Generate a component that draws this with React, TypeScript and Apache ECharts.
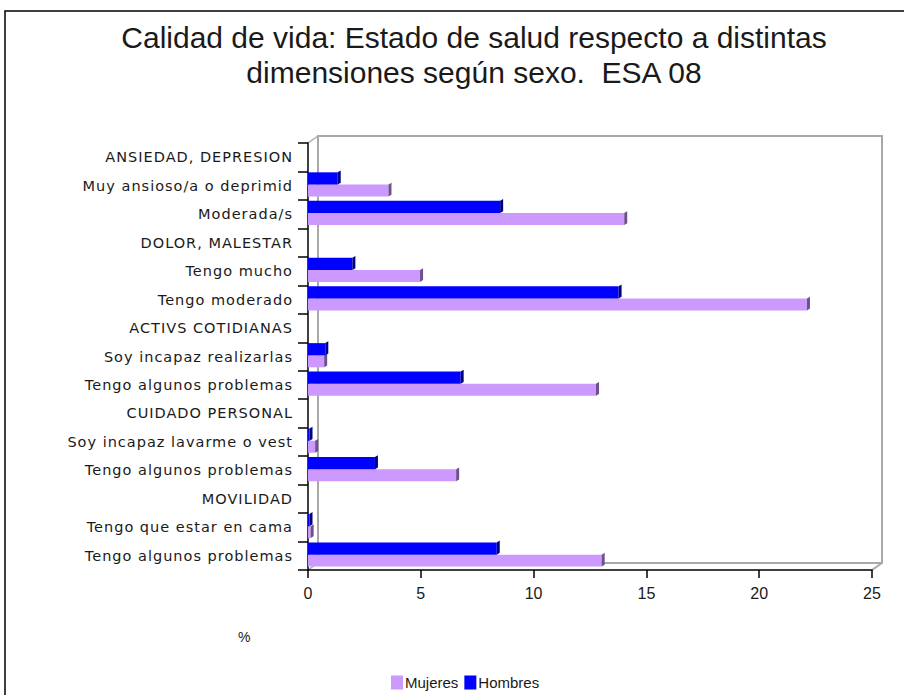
import React, { useEffect, useRef } from "react";
import * as echarts from "echarts";

const categories = [
  "ANSIEDAD, DEPRESION",
  "Muy ansioso/a o deprimid",
  "Moderada/s",
  "DOLOR, MALESTAR",
  "Tengo mucho",
  "Tengo moderado",
  "ACTIVS COTIDIANAS",
  "Soy incapaz realizarlas",
  "Tengo algunos problemas",
  "CUIDADO PERSONAL",
  "Soy incapaz lavarme o vest",
  "Tengo algunos problemas",
  "MOVILIDAD",
  "Tengo que estar en cama",
  "Tengo algunos problemas",
];

const hombres: (number | null)[] = [
  null, 1.45, 8.65, null, 2.1, 13.9, null, 0.9, 6.9, null, 0.2, 3.1, null, 0.2, 8.5,
];
const mujeres: (number | null)[] = [
  null, 3.7, 14.15, null, 5.1, 22.25, null, 0.85, 12.9, null, 0.45, 6.7, null, 0.25, 13.15,
];

const xTicks = { min: 0, max: 25, interval: 5 };

const FONT = "'Liberation Sans', Arial, sans-serif";
const LABEL_FONT = "'DejaVu Sans', 'Liberation Sans', sans-serif";

function makeRender(topFrac: number, botFrac: number, color: string, cap: string) {
  return (params: any, api: any) => {
    const v = api.value(0);
    const idx = api.value(1);
    if (v == null || isNaN(v)) return null;
    const start = api.coord([0, idx]);
    const end = api.coord([v, idx]);
    const band = api.size([0, 1])[1];
    const y0 = start[1] + band * topFrac;
    const y1 = start[1] + band * botFrac;
    const d = 3;
    const w = Math.max(end[0] - start[0] - d, 0.5);
    return {
      type: "group",
      children: [
        {
          type: "rect",
          shape: { x: start[0], y: y0, width: w, height: y1 - y0 },
          style: { fill: color },
        },
        {
          type: "polygon",
          shape: {
            points: [
              [start[0] + w, y0],
              [start[0] + w + d, y0 - d * 0.6],
              [start[0] + w + d, y1 - d * 0.6],
              [start[0] + w, y1],
            ],
          },
          style: { fill: cap },
        },
      ],
    };
  };
}

export default function App() {
  const ref = useRef<HTMLDivElement>(null);
  useEffect(() => {
    document.body.style.margin = "0";
    const chart = echarts.init(ref.current!, null, { renderer: "svg" });
    const gridLeft = 308;
    const gridTop = 143;
    const gridRight = 872;
    const gridBottom = 570;
    const dx = 10;
    const dy = 7;
    chart.setOption({
      animation: false,
      backgroundColor: "#ffffff",
      title: {
        text: "Calidad de vida: Estado de salud respecto a distintas\ndimensiones según sexo.  ESA 08",
        left: 474,
        textAlign: "center",
        top: 20,
        padding: 0,
        textStyle: {
          fontFamily: FONT,
          fontSize: 30,
          fontWeight: "normal",
          color: "#1a1a1a",
          lineHeight: 35,
        },
      },
      legend: {
        left: 386,
        top: 670,
        itemWidth: 12,
        itemHeight: 14,
        itemGap: 6,
        icon: "rect",
        textStyle: { fontFamily: FONT, fontSize: 15, color: "#1a1a1a", padding: [0, 0, 0, -3] },
        data: ["Mujeres", "Hombres"],
      },
      grid: {
        left: gridLeft,
        top: gridTop,
        right: 904 - gridRight,
        bottom: 695 - gridBottom,
      },
      xAxis: {
        type: "value",
        min: xTicks.min,
        max: xTicks.max,
        interval: xTicks.interval,
        axisLine: { show: true, lineStyle: { color: "#000", width: 1.5 } },
        axisTick: { show: true, length: 8, lineStyle: { color: "#000", width: 1.5 } },
        axisLabel: { fontFamily: FONT, fontSize: 16, color: "#1a1a1a", margin: 15 },
        splitLine: { show: false },
      },
      yAxis: {
        type: "category",
        inverse: true,
        data: categories,
        axisLine: { show: true, lineStyle: { color: "#000", width: 1.5 } },
        axisTick: { show: true, length: 10, lineStyle: { color: "#000", width: 1.5 } },
        axisLabel: { fontFamily: LABEL_FONT, fontSize: 14.5, color: "#1a1a1a", margin: 15 },
      },
      graphic: [
        {
          type: "rect",
          z: -10,
          shape: { x: 5, y: 11, width: 1000, height: 800 },
          style: { fill: "none", stroke: "#000", lineWidth: 1.5 },
        },
        {
          type: "polyline",
          z: -5,
          shape: {
            points: [
              [gridLeft + dx, gridBottom - dy],
              [gridLeft + dx, gridTop - dy],
              [gridRight + dx, gridTop - dy],
              [gridRight + dx, gridBottom - dy],
              [gridLeft + dx, gridBottom - dy],
            ],
          },
          style: { fill: "none", stroke: "#a8a8a8", lineWidth: 2 },
        },
        {
          type: "line",
          z: -5,
          shape: { x1: gridLeft, y1: gridTop, x2: gridLeft + dx, y2: gridTop - dy },
          style: { stroke: "#a8a8a8", lineWidth: 1.5 },
        },
        {
          type: "line",
          z: -5,
          shape: { x1: gridLeft, y1: gridBottom, x2: gridLeft + dx, y2: gridBottom - dy },
          style: { stroke: "#a8a8a8", lineWidth: 1.5 },
        },
        {
          type: "line",
          z: -5,
          shape: { x1: gridRight, y1: gridBottom, x2: gridRight + dx, y2: gridBottom - dy },
          style: { stroke: "#a8a8a8", lineWidth: 2 },
        },
        {
          type: "text",
          left: 238,
          top: 630,
          style: { text: "%", fontFamily: FONT, fontSize: 14, fill: "#1a1a1a" },
        },
      ],
      series: [
        {
          name: "Mujeres",
          type: "custom",
          itemStyle: { color: "#cc99ff" },
          encode: { x: 0, y: 1 },
          renderItem: makeRender(-0.04, 0.38, "#cc99ff", "#6e4f8f"),
          data: mujeres.map((v, i) => [v, i]),
        },
        {
          name: "Hombres",
          type: "custom",
          itemStyle: { color: "#0000ff" },
          encode: { x: 0, y: 1 },
          renderItem: makeRender(-0.47, -0.04, "#0000ff", "#000080"),
          data: hombres.map((v, i) => [v, i]),
        },
      ],
    });
    return () => chart.dispose();
  }, []);
  return (
    <>
      <style>{'text[text-anchor="end"] { letter-spacing: 1px; }'}</style>
      <div
        ref={ref}
        style={{ width: 904, height: 695, position: "absolute", left: 0, top: 0 }}
      />
    </>
  );
}
